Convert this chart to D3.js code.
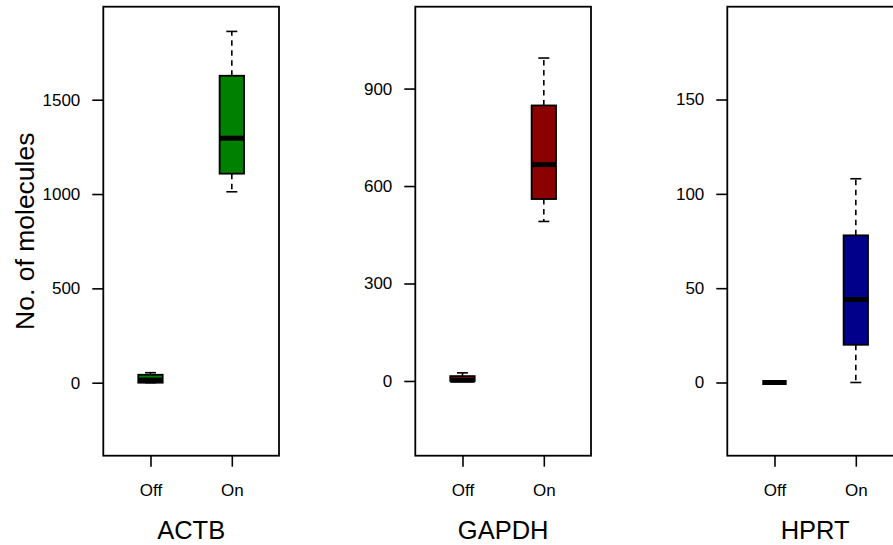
<!DOCTYPE html>
<html>
<head>
<meta charset="utf-8">
<script src="https://cdn.jsdelivr.net/npm/d3@7"></script>
<style>
  html, body { margin: 0; padding: 0; background: #fff; }
  svg { display: block; font-family: "Liberation Sans", Arial, Helvetica, sans-serif; }
</style>
</head>
<body>
<svg id="chart" width="893" height="545"></svg>
<script>
// Genes shown in the three panels and the two conditions in each
const genes = ["ACTB", "GAPDH", "HPRT"];
const groups = ["Off", "On"];
const fillColors = ["#008000", "#8b0000", "#00008b"];

// Five-number summaries per group: [lower whisker, Q1, median, Q3, upper whisker]
const actbStats = [[0, 0, 14, 42, 53], [1012, 1108, 1296, 1627, 1862]];
const gapdhStats = [[0, 0, 2, 15, 25], [491, 560, 666, 848, 994]];
const hprtStats = [[0, 0, 0, 0, 0], [0, 20, 44, 78, 108]];
const allStats = [actbStats, gapdhStats, hprtStats];

// Y-axis tick values and plotted ranges per panel
const yTicks = [[0, 500, 1000, 1500], [0, 300, 600, 900], [0, 50, 100, 150]];
const yDomains = [[-387, 1993], [-230, 1152], [-38.8, 199.2]];

const yLabel = "No. of molecules";

const svg = d3.select("#chart");
const panelLeft = 103.3, panelStep = 312, panelW = 175.7;
const plotTop = 6.7, plotBottom = 455.7;
const boxW = 0.3; // box width in x-scale units
const tickFont = "17px";
const titleFont = "25.5px";

genes.forEach((gene, gi) => {
  const x0 = panelLeft + gi * panelStep;
  const x = d3.scaleLinear().domain([0.42, 2.58]).range([x0, x0 + panelW]);
  const y = d3.scaleLinear().domain(yDomains[gi]).range([plotBottom, plotTop]);
  const g = svg.append("g");
  const stats = allStats[gi];

  groups.forEach((grp, k) => {
    const s = stats[k];
    const cx = x(k + 1);
    const half = (x(k + 1 + boxW / 2) - x(k + 1));
    const capHalf = half * 0.45;
    // whiskers
    g.append("line").attr("x1", cx).attr("x2", cx).attr("y1", y(s[3])).attr("y2", y(s[4]))
      .attr("stroke", "#000").attr("stroke-width", 1.6).attr("stroke-dasharray", "5.5,4.5");
    g.append("line").attr("x1", cx).attr("x2", cx).attr("y1", y(s[1])).attr("y2", y(s[0]))
      .attr("stroke", "#000").attr("stroke-width", 1.6).attr("stroke-dasharray", "5.5,4.5");
    // staples
    [s[0], s[4]].forEach(v => {
      g.append("line").attr("x1", cx - capHalf).attr("x2", cx + capHalf)
        .attr("y1", y(v)).attr("y2", y(v)).attr("stroke", "#000").attr("stroke-width", 1.6);
    });
    // box
    g.append("rect").attr("x", cx - half).attr("width", 2 * half)
      .attr("y", y(s[3])).attr("height", Math.max(0, y(s[1]) - y(s[3])))
      .attr("fill", fillColors[gi]).attr("stroke", "#000").attr("stroke-width", 1.8);
    // median
    g.append("line").attr("x1", cx - half).attr("x2", cx + half)
      .attr("y1", y(s[2])).attr("y2", y(s[2])).attr("stroke", "#000").attr("stroke-width", 5);
  });

  // frame
  g.append("rect").attr("x", x0).attr("y", plotTop).attr("width", panelW).attr("height", plotBottom - plotTop)
    .attr("fill", "none").attr("stroke", "#000").attr("stroke-width", 1.8);

  // y axis
  const ya = g.append("g").attr("transform", `translate(${x0},0)`)
    .call(d3.axisLeft(y).tickValues(yTicks[gi]).tickSize(11).tickPadding(12).tickFormat(d3.format("d")));
  ya.select(".domain").remove();
  ya.selectAll("line").attr("stroke-width", 1.6);
  ya.selectAll("text").style("font-size", tickFont).attr("fill", "#000")
    .style("font-family", "'Liberation Sans', Arial, sans-serif");

  // x axis
  const xa = g.append("g").attr("transform", `translate(0,${plotBottom})`)
    .call(d3.axisBottom(x).tickValues([1, 2]).tickSize(11).tickPadding(17)
      .tickFormat(d => groups[d - 1]));
  xa.select(".domain").remove();
  xa.selectAll("line").attr("stroke-width", 1.6);
  xa.selectAll("text").style("font-size", tickFont).attr("fill", "#000")
    .style("font-family", "'Liberation Sans', Arial, sans-serif");

  // gene name below the panel
  g.append("text").attr("x", x0 + panelW / 2).attr("y", 539)
    .attr("text-anchor", "middle").style("font-size", titleFont).attr("fill", "#000").text(gene);
});

// shared y-axis title on the first panel
svg.append("text")
  .attr("transform", `translate(33.5,${(plotTop + plotBottom) / 2}) rotate(-90)`)
  .attr("text-anchor", "middle").style("font-size", "26.5px").attr("fill", "#000")
  .text(yLabel);
</script>
</body>
</html>
